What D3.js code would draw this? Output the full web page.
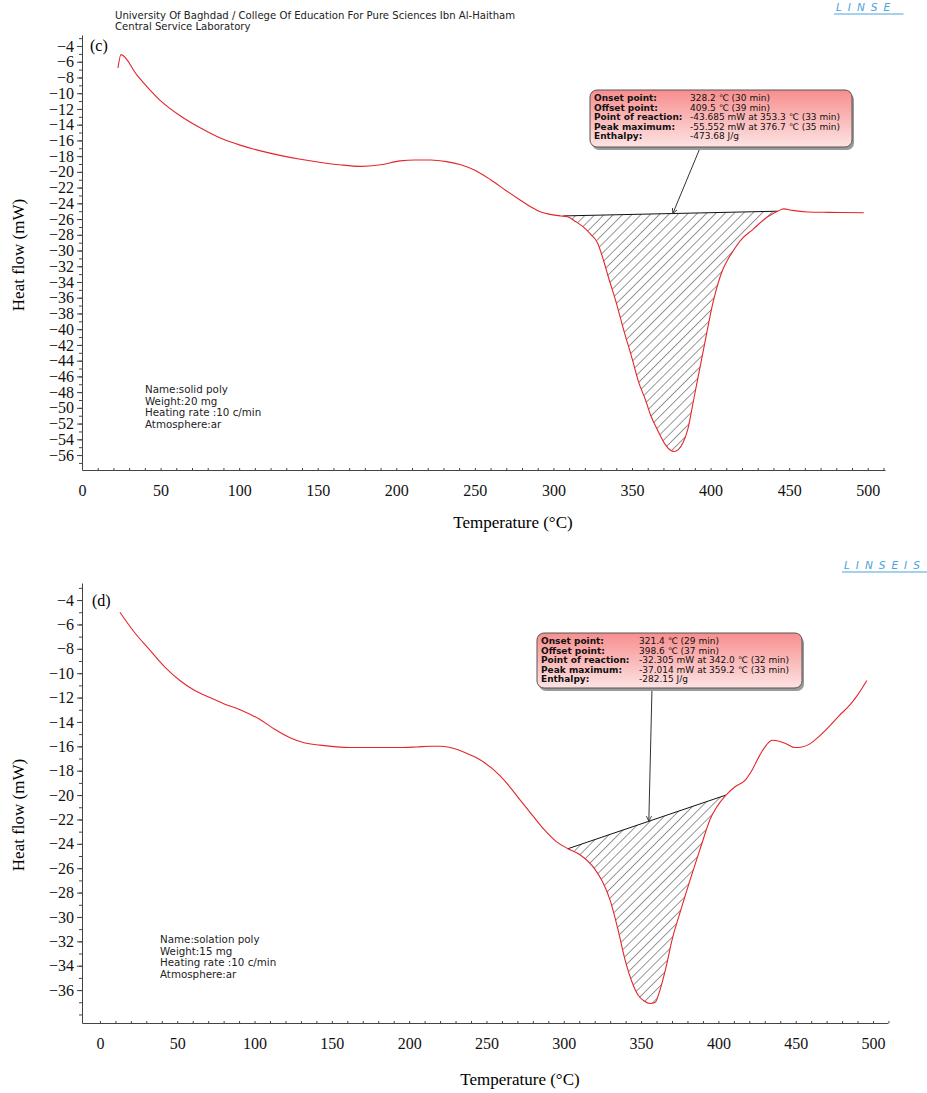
<!DOCTYPE html>
<html>
<head>
<meta charset="utf-8">
<script src="https://cdn.jsdelivr.net/npm/d3@7"></script>
<style>
    body { margin: 0; background: #fff; }
    svg { display: block; }
</style>
</head>
<body>
<svg id="chart" width="927" height="1093"></svg>
<script>
// ---- data ----
// panel (c): solid poly
const tempC = [22.9, 24.8, 35, 49.7, 62, 75.2, 88, 100.6, 113, 126, 139, 152, 164, 177, 190, 202.5, 212, 221.7, 232, 241, 250, 260, 270, 279, 286, 292, 298, 304.5, 308.9, 314, 319, 324, 328, 331.8, 335, 339.5, 345, 350.3, 354, 358.6, 362, 366.2, 371.3, 374.5, 376.7, 379.5, 382.5, 385.4, 389.2, 395.5, 401.9, 407.6, 410.8, 414.5, 419.1, 427, 436.3, 442.7, 446.5, 452, 461.8, 475, 497.5];
const heatC = [-6.8, -5.1, -7.7, -10.9, -12.8, -14.4, -15.7, -16.6, -17.3, -17.9, -18.4, -18.8, -19.1, -19.3, -19.1, -18.6, -18.5, -18.5, -18.7, -19.1, -19.8, -21.0, -22.4, -23.6, -24.5, -25.1, -25.4, -25.6, -25.7, -26.3, -27.0, -28.0, -29.0, -31.2, -33.4, -36.3, -40.3, -43.9, -46.6, -49.0, -51.0, -52.8, -54.7, -55.4, -55.55, -55.3, -54.4, -52.8, -49.0, -42.6, -36.3, -32.5, -31.2, -30.0, -28.7, -27.3, -25.7, -25.0, -24.7, -24.9, -25.1, -25.15, -25.2];
// panel (d): solation poly
const tempD = [12.9, 22, 32.3, 42, 51.7, 61, 71.2, 80, 90.6, 103.5, 113, 122.9, 132, 142.3, 161.7, 178, 194, 205, 213.4, 220, 226.4, 236, 245.8, 258.7, 265, 271.7, 280, 287.8, 295, 302.7, 310.5, 320.2, 325, 329.9, 335, 339.6, 344, 348, 352, 355.8, 359.2, 362.2, 366, 370, 376, 381.6, 388, 394.6, 404.9, 411, 417.2, 422, 426.9, 431, 434.7, 439.8, 444, 449.5, 454, 459.2, 465, 472.2, 478, 485.1, 490, 496];
const heatD = [-5.0, -6.6, -8.1, -9.5, -10.6, -11.4, -12.0, -12.5, -13.0, -13.8, -14.6, -15.3, -15.7, -15.9, -16.1, -16.1, -16.1, -16.05, -16.0, -16.0, -16.1, -16.5, -17.1, -18.4, -19.3, -20.4, -21.7, -22.9, -23.8, -24.4, -24.9, -26.1, -27.1, -28.6, -31.0, -33.5, -35.3, -36.4, -36.9, -37.1, -37.0, -36.0, -34.2, -31.9, -29.3, -27.0, -24.5, -22.0, -20.0, -19.3, -18.8, -17.9, -16.7, -15.9, -15.5, -15.6, -15.8, -16.1, -16.05, -15.8, -15.2, -14.3, -13.5, -12.6, -11.8, -10.6];

// integration baselines [onset T, value], [offset T, value]
const baseC = [[306.4, -25.6], [442.7, -25.0]];
const baseD = [[302.7, -24.4], [404.9, -20.0]];

const xTicks = [0, 50, 100, 150, 200, 250, 300, 350, 400, 450, 500];
const yTicksC = d3.range(-4, -57, -2);
const yTicksD = d3.range(-4, -37, -2);

const boxLabels = ['Onset point:', 'Offset point:', 'Point of reaction:', 'Peak maximum:', 'Enthalpy:'];
const boxValuesC = ['328.2 \u2103 (30 min)', '409.5 \u2103 (39 min)', '-43.685 mW at 353.3 \u2103 (33 min)', '-55.552 mW at 376.7 \u2103 (35 min)', '-473.68 J/g'];
const boxValuesD = ['321.4 \u2103 (29 min)', '398.6 \u2103 (37 min)', '-32.305 mW at 342.0 \u2103 (32 min)', '-37.014 mW at 359.2 \u2103 (33 min)', '-282.15 J/g'];

const infoC = ['Name:solid poly', 'Weight:20 mg', 'Heating rate :10 c/min', 'Atmosphere:ar'];
const infoD = ['Name:solation poly', 'Weight:15 mg', 'Heating rate :10 c/min', 'Atmosphere:ar'];

const header = ['University Of Baghdad / College Of Education For Pure Sciences Ibn Al-Haitham', 'Central Service Laboratory'];

const svg = d3.select('#chart');
const serif = '"Liberation Serif", "Times New Roman", serif';
const sans = '"DejaVu Sans", Verdana, sans-serif';
const red = '#e3262a';

const defs = svg.append('defs');

// hatch pattern for the integrated peak
defs.append('pattern')
    .attr('id', 'hatch')
    .attr('patternUnits', 'userSpaceOnUse')
    .attr('width', 6.5)
    .attr('height', 6.5)
    .attr('patternTransform', 'rotate(45)')
    .append('line')
    .attr('x1', 0).attr('y1', 0)
    .attr('x2', 0).attr('y2', 6.5)
    .attr('stroke', '#1a1a1a')
    .attr('stroke-width', 0.9);

const grad = defs.append('linearGradient')
    .attr('id', 'boxFill')
    .attr('x1', 0).attr('y1', 0).attr('x2', 0).attr('y2', 1);
grad.append('stop').attr('offset', '0%').attr('stop-color', '#f78e8e');
grad.append('stop').attr('offset', '100%').attr('stop-color', '#fde3e3');

defs.append('marker')
    .attr('id', 'arrowTip')
    .attr('viewBox', '-6 -4 8 8')
    .attr('markerWidth', 7)
    .attr('markerHeight', 7)
    .attr('orient', 'auto')
    .attr('markerUnits', 'userSpaceOnUse')
    .append('path')
    .attr('d', 'M0,0L-6,-3M0,0L-6,3')
    .attr('stroke', '#333')
    .attr('fill', 'none');

// header
svg.append('g').selectAll('text')
    .data(header)
    .join('text')
    .attr('x', 115)
    .attr('y', (d, i) => 19 + i * 11)
    .style('font-family', sans)
    .style('font-size', '10.1px')
    .style('fill', '#222')
    .text(d => d);

function drawLogo(x, y, label) {
    const g = svg.append('g');
    g.append('text')
        .attr('x', x)
        .attr('y', y)
        .style('font-family', sans)
        .style('font-size', '10.5px')
        .style('font-style', 'italic')
        .style('letter-spacing', '6px')
        .style('fill', '#4aa3dc')
        .text(label);
    g.append('line')
        .attr('x1', x - 2).attr('x2', x + label.length * 13.5)
        .attr('y1', y + 3).attr('y2', y + 3)
        .attr('stroke', '#4aa3dc')
        .attr('stroke-width', 1);
}
drawLogo(836, 11, 'LINSE');
drawLogo(844, 569, 'LINSEIS');

function drawPanel(cfg) {
    const x = d3.scaleLinear().domain(cfg.xDomain).range(cfg.xRange);
    const y = d3.scaleLinear().domain(cfg.yDomain).range(cfg.yRange);
    const g = svg.append('g');

    // y axis, minor then major ticks
    g.append('g')
        .attr('transform', 'translate(' + cfg.xRange[0] + ',0)')
        .call(d3.axisLeft(y).tickValues(cfg.yMinor).tickSize(3).tickFormat(''))
        .call(a => a.select('.domain').remove())
        .selectAll('line').attr('stroke', '#444');
    const yAx = g.append('g')
        .attr('transform', 'translate(' + cfg.xRange[0] + ',0)')
        .call(d3.axisLeft(y).tickValues(cfg.yTicks).tickSize(5).tickSizeOuter(0).tickPadding(3));
    yAx.select('.domain').attr('stroke', '#444');
    yAx.selectAll('line').attr('stroke', '#444');
    yAx.selectAll('text')
        .style('font-family', serif)
        .style('font-size', '16px')
        .style('fill', '#111');

    // x axis
    g.append('g')
        .attr('transform', 'translate(0,' + cfg.yRange[0] + ')')
        .call(d3.axisTop(x).tickValues(d3.range(0, 511, 10)).tickSize(2).tickFormat(''))
        .call(a => a.select('.domain').remove())
        .selectAll('line').attr('stroke', '#444');
    const xAx = g.append('g')
        .attr('transform', 'translate(0,' + cfg.yRange[0] + ')')
        .call(d3.axisBottom(x).tickValues(xTicks).tickSize(0).tickSizeOuter(0).tickPadding(15));
    xAx.select('.domain').attr('stroke', '#444');
    xAx.selectAll('text')
        .style('font-family', serif)
        .style('font-size', '16px')
        .style('fill', '#111');

    // axis titles
    g.append('text')
        .attr('x', cfg.xTitle[0])
        .attr('y', cfg.xTitle[1])
        .attr('text-anchor', 'middle')
        .style('font-family', serif)
        .style('font-size', '17px')
        .text('Temperature (\u00B0C)');
    g.append('text')
        .attr('transform', 'translate(' + cfg.yTitle[0] + ',' + cfg.yTitle[1] + ') rotate(-90)')
        .attr('text-anchor', 'middle')
        .style('font-family', serif)
        .style('font-size', '17px')
        .text('Heat flow (mW)');

    g.append('text')
        .attr('x', cfg.tag[0])
        .attr('y', cfg.tag[1])
        .style('font-family', serif)
        .style('font-size', '16px')
        .text(cfg.tagText);

    const pts = cfg.temps.map((t, i) => [t, cfg.heat[i]]);
    const line = d3.line()
        .x(d => x(d[0]))
        .y(d => y(d[1]))
        .curve(d3.curveMonotoneX);

    // hatched peak area: curve between onset and offset, closed by the baseline
    const b0 = cfg.base[0], b1 = cfg.base[1];
    const inner = pts.filter(d => d[0] > b0[0] && d[0] < b1[0]);
    const areaPts = [b0].concat(inner, [b1]);
    g.append('path')
        .attr('d', line(areaPts) + 'Z')
        .attr('fill', 'url(#hatch)')
        .attr('stroke', 'none');
    g.append('line')
        .attr('x1', x(b0[0])).attr('y1', y(b0[1]))
        .attr('x2', x(b1[0])).attr('y2', y(b1[1]))
        .attr('stroke', '#111')
        .attr('stroke-width', 1);

    g.append('path')
        .attr('d', line(pts))
        .attr('fill', 'none')
        .attr('stroke', red)
        .attr('stroke-width', 1.1);

    // info block
    g.append('g').selectAll('text')
        .data(cfg.info)
        .join('text')
        .attr('x', cfg.infoPos[0])
        .attr('y', (d, i) => cfg.infoPos[1] + i * 11.6)
        .style('font-family', sans)
        .style('font-size', '10.3px')
        .style('fill', '#222')
        .text(d => d);

    // result box + arrow to the reaction point on the baseline
    const bx = cfg.box[0], by = cfg.box[1], bw = cfg.box[2], bh = cfg.box[3];
    const tipT = cfg.reaction;
    const tipV = b0[1] + (b1[1] - b0[1]) * (tipT - b0[0]) / (b1[0] - b0[0]);
    g.append('line')
        .attr('x1', cfg.arrowFrom[0]).attr('y1', cfg.arrowFrom[1])
        .attr('x2', x(tipT)).attr('y2', y(tipV))
        .attr('stroke', '#333')
        .attr('stroke-width', 1)
        .attr('marker-end', 'url(#arrowTip)');
    g.append('rect')
        .attr('x', bx + 2).attr('y', by + 3)
        .attr('width', bw).attr('height', bh)
        .attr('rx', 7)
        .attr('fill', '#9a9a9a');
    g.append('rect')
        .attr('x', bx).attr('y', by)
        .attr('width', bw).attr('height', bh)
        .attr('rx', 7)
        .attr('fill', 'url(#boxFill)')
        .attr('stroke', '#555')
        .attr('stroke-width', 1);
    const rows = g.append('g').selectAll('g')
        .data(boxLabels)
        .join('g')
        .attr('transform', (d, i) => 'translate(0,' + (by + 11 + i * 9.6) + ')');
    rows.append('text')
        .attr('x', bx + 4)
        .style('font-family', sans)
        .style('font-size', '9px')
        .style('font-weight', 'bold')
        .style('fill', '#111')
        .text(d => d);
    rows.append('text')
        .attr('x', bx + cfg.valueOffset)
        .style('font-family', sans)
        .style('font-size', '9px')
        .style('fill', '#111')
        .text((d, i) => cfg.values[i]);
}

drawPanel({
    xDomain: [0, 511], xRange: [82, 885],
    yDomain: [-57.9, -2.6], yRange: [470, 35],
    yTicks: yTicksC, yMinor: d3.range(-3, -58, -1),
    xTitle: [513, 528], yTitle: [24, 255],
    tag: [90, 51], tagText: '(c)',
    temps: tempC, heat: heatC, base: baseC,
    info: infoC, infoPos: [145, 393],
    box: [590, 90, 262, 57], valueOffset: 100,
    values: boxValuesC, reaction: 376.0, arrowFrom: [700, 148]
});

drawPanel({
    xDomain: [-11.6, 509.7], xRange: [82, 888],
    yDomain: [-38.7, -2.6], yRange: [1023, 583],
    yTicks: yTicksD, yMinor: d3.range(-3, -39, -1),
    xTitle: [520, 1085], yTitle: [24, 815],
    tag: [92, 606], tagText: '(d)',
    temps: tempD, heat: heatD, base: baseD,
    info: infoD, infoPos: [160, 943],
    box: [537, 633, 265, 55], valueOffset: 102,
    values: boxValuesD, reaction: 355.0, arrowFrom: [652, 688]
});
</script>
</body>
</html>
